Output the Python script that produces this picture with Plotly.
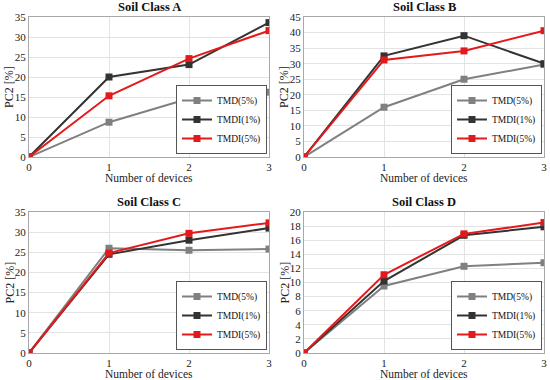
import plotly.graph_objects as go

devices = [0, 1, 2, 3]
series_names = ["TMD(5%)", "TMDI(1%)", "TMDI(5%)"]
colors = ["#808080", "#333333", "#e31a1c"]

A_tmd5 = [0, 8.7, 14.6, 16.2]
A_tmdi1 = [0, 20.0, 23.1, 33.6]
A_tmdi5 = [0, 15.3, 24.6, 31.6]

B_tmd5 = [0, 16.0, 25.0, 29.7]
B_tmdi1 = [0, 32.5, 39.0, 30.0]
B_tmdi5 = [0, 31.2, 34.1, 40.6]

C_tmd5 = [0, 26.0, 25.5, 25.8]
C_tmdi1 = [0, 24.5, 28.0, 31.0]
C_tmdi5 = [0, 24.8, 29.7, 32.3]

D_tmd5 = [0, 9.5, 12.3, 12.8]
D_tmdi1 = [0, 10.2, 16.7, 17.9]
D_tmdi5 = [0, 11.1, 16.9, 18.5]

titles = ["Soil Class A", "Soil Class B", "Soil Class C", "Soil Class D"]
panels = [
    [A_tmd5, A_tmdi1, A_tmdi5],
    [B_tmd5, B_tmdi1, B_tmdi5],
    [C_tmd5, C_tmdi1, C_tmdi5],
    [D_tmd5, D_tmdi1, D_tmdi5],
]
yranges = [(0, 35, 5), (0, 45, 5), (0, 35, 5), (0, 20, 2)]

W, H = 550, 380
# pixel boxes: (left, right, top, bottom)
boxes = [(29, 269, 17, 157), (304, 544, 17, 157), (29, 269, 212, 353), (304, 544, 212, 353)]

FONT = "Liberation Serif"
fig = go.Figure()
annotations = []
for i, (vals, box) in enumerate(zip(panels, boxes)):
    n = "" if i == 0 else str(i + 1)
    lg = "legend" + n
    for j, (name, v) in enumerate(zip(series_names, vals)):
        fig.add_trace(go.Scatter(
            x=devices, y=v, name=name, mode="lines+markers",
            line=dict(color=colors[j], width=2),
            marker=dict(symbol="square", size=7, color=colors[j]),
            xaxis="x" + n, yaxis="y" + n, legend=lg,
        ))
    l, r, t, b = box
    y0, y1, dt = yranges[i]
    fig.update_layout(**{
        "xaxis" + n: dict(
            domain=[l / W, r / W], anchor="y" + n, range=[0, 3], dtick=1,
            showgrid=True, gridcolor="#e3e3e3", zeroline=False,
            showline=True, mirror=True, linecolor="#a8a8a8", linewidth=1,
            tickfont=dict(family=FONT, size=11, color="#222"), ticklen=0,
            automargin=False,
        ),
        "yaxis" + n: dict(
            domain=[1 - b / H, 1 - t / H], anchor="x" + n, range=[y0, y1], dtick=dt,
            showgrid=True, gridcolor="#e3e3e3", zeroline=False,
            showline=True, mirror=True, linecolor="#a8a8a8", linewidth=1,
            tickfont=dict(family=FONT, size=11, color="#222"), ticklen=0,
            automargin=False,
        ),
        lg: dict(
            x=(r - 2) / W, y=1 - (b - 3) / H, xanchor="right", yanchor="bottom",
            xref="paper", yref="paper",
            bgcolor="white", bordercolor="#555", borderwidth=1,
            font=dict(family=FONT, size=9.5, color="#111"),
            tracegroupgap=0, itemwidth=30,
        ),
    })
    cx = (l + r) / 2
    common = dict(xref="paper", yref="paper", showarrow=False, xanchor="center", yanchor="middle")
    annotations.append(dict(text="<b>" + titles[i] + "</b>", x=cx / W, y=1 - (t - 10) / H,
                            font=dict(family=FONT, size=12.5, color="#111"), **common))
    annotations.append(dict(text="Number of devices", x=cx / W, y=1 - (b + 21) / H,
                            font=dict(family=FONT, size=11.5, color="#222"), **common))
    annotations.append(dict(text="PC2 [%]", x=(l - 20) / W, y=1 - ((t + b) / 2) / H,
                            textangle=-90,
                            font=dict(family=FONT, size=12, color="#222"), **common))

fig.update_layout(
    width=W, height=H, margin=dict(l=0, r=0, t=0, b=0, pad=0, autoexpand=False),
    paper_bgcolor="white", plot_bgcolor="white",
    annotations=annotations, showlegend=True,
)
fig.write_html("out.html", config={"displayModeBar": False},
               post_script="document.body.style.margin='0';")
